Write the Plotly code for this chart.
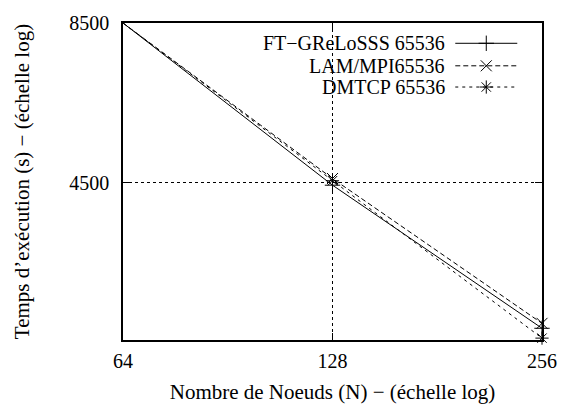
import plotly.graph_objects as go

nodes = [64, 128, 256]
ft_greloss = [8500, 4460, 2525]
lam_mpi = [8500, 4580, 2575]
dmtcp = [8500, 4540, 2428]

series_names = ["FT\u2212GReLoSSS 65536", "LAM/MPI65536", "DMTCP 65536"]
x_ticks = [64, 128, 256]
y_ticks = [4500, 8500]

FONT = "'Times New Roman', 'Liberation Serif', serif"
FS = 20
FT = 21

styles = [
    dict(dash="solid", symbol="cross-thin"),
    dict(dash="5px,3px", symbol="x-thin"),
    dict(dash="3px,4px", symbol="asterisk-open"),
]
data = [ft_greloss, lam_mpi, dmtcp]

fig = go.Figure()
for name, ys, st in zip(series_names, data, styles):
    fig.add_trace(go.Scatter(
        x=nodes, y=ys, mode="lines+markers", name=name,
        line=dict(color="black", width=1, dash=st["dash"]),
        marker=dict(symbol=st["symbol"], size=11, color="black",
                    line=dict(color="black", width=1)),
        showlegend=False, cliponaxis=False,
    ))

# custom gnuplot-style legend (text right, sample on the right)
leg_y = [0.936, 0.865, 0.798]
for name, st, yy in zip(series_names, styles, leg_y):
    fig.add_trace(go.Scatter(
        x=[0.793, 0.867, 0.941], y=[yy, yy, yy], xaxis="x2", yaxis="y2",
        mode="lines", line=dict(color="black", width=1, dash=st["dash"]),
        showlegend=False, hoverinfo="skip"))
    fig.add_trace(go.Scatter(
        x=[0.867], y=[yy], xaxis="x2", yaxis="y2", mode="markers",
        marker=dict(symbol=st["symbol"], size=11, color="black",
                    line=dict(color="black", width=1)),
        showlegend=False, hoverinfo="skip"))
    fig.add_annotation(x=0.774, y=yy, xref="x2", yref="y2", text=name,
                       showarrow=False, xanchor="right", yanchor="middle",
                       font=dict(family=FONT, size=FS, color="black"))

fig.update_layout(
    width=569, height=412,
    margin=dict(l=123, r=21, t=15, b=70),
    paper_bgcolor="white", plot_bgcolor="white",
    font=dict(family=FONT, size=FS, color="black"),
    xaxis=dict(
        type="log", range=[1.80618, 2.40824],
        tickvals=x_ticks, ticktext=[str(v) for v in x_ticks],
        tickfont=dict(family=FONT, size=FS),
        showline=True, linecolor="black", linewidth=1.5, mirror="ticks",
        ticks="inside", ticklen=7, tickcolor="black",
        showgrid=True, gridcolor="black", griddash="dot", gridwidth=1,
        zeroline=False, ticklabelstandoff=2,
        title=dict(text="Nombre de Noeuds (N) \u2212 (\u00e9chelle log)",
                   font=dict(family=FONT, size=FT), standoff=14),
    ),
    yaxis=dict(
        type="log", range=[3.382, 3.92942],
        tickvals=y_ticks, ticktext=[str(v) for v in y_ticks],
        tickfont=dict(family=FONT, size=FS),
        showline=True, linecolor="black", linewidth=1.5, mirror="ticks",
        ticks="inside", ticklen=7, tickcolor="black",
        showgrid=True, gridcolor="black", griddash="dot", gridwidth=1,
        zeroline=False, ticklabelstandoff=8,
        title=dict(text="Temps d\u2019ex\u00e9cution (s) \u2212 (\u00e9chelle log)",
                   font=dict(family=FONT, size=FT), standoff=34),
    ),
    xaxis2=dict(range=[0, 1], overlaying="x", visible=False, domain=[0, 1]),
    yaxis2=dict(range=[0, 1], overlaying="y", visible=False, anchor="x2"),
)

fig.write_html("out.html", config={"displayModeBar": False},
               post_script="document.body.style.margin='0';")
